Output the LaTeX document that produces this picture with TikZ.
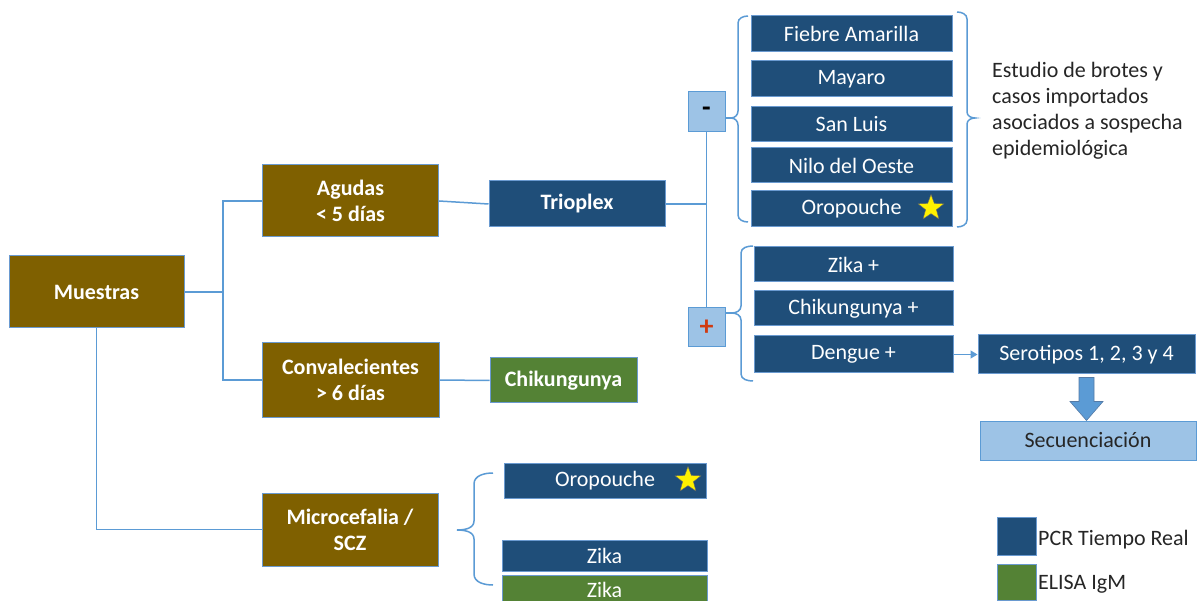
\documentclass[tikz,border=0pt]{standalone}
\usepackage{fontspec}
\setmainfont{Carlito}
\usetikzlibrary{shapes.geometric,arrows.meta}
\definecolor{dblue}{HTML}{1F4E79}
\definecolor{dgreen}{HTML}{548235}
\definecolor{brownc}{HTML}{7F6000}
\definecolor{lblue}{HTML}{9DC3E6}
\definecolor{lineblue}{HTML}{5B9BD5}
\definecolor{bord}{HTML}{6A9AD0}
\definecolor{darktxt}{HTML}{262626}
\definecolor{plusred}{HTML}{D03A10}
\newcommand\fsz{\fontsize{22}{26}\selectfont}
\tikzset{
  box/.style={draw=bord, line width=1pt, inner sep=0pt, align=center, font=\fsz},
  bluebox/.style={box, fill=dblue, text=white},
  brownbox/.style={box, fill=brownc, text=white, font=\fsz\bfseries},
  greenbox/.style={box, fill=dgreen, text=white},
  signbox/.style={box, fill=lblue, draw=lineblue, font=\fontsize{28}{30}\selectfont\bfseries},
  ln/.style={draw=lineblue, line width=1.5pt},
  starmark/.style={star, star points=5, star point ratio=2.4, fill=yellow, draw=black!60, line width=0.4pt, minimum size=27pt, inner sep=0pt},
}
\begin{document}
\begin{tikzpicture}[x=1pt,y=-1pt]
\clip (0,0) rectangle (1202,601);
\fill[white] (0,0) rectangle (1202,601);

% left column
\node[brownbox, minimum width=175pt, minimum height=72pt] (mue) at (96.5,292) {Muestras};
\node[brownbox, minimum width=176pt, minimum height=72pt] (agu) at (350.5,201) {Agudas\\< 5 días};
\node[brownbox, minimum width=177pt, minimum height=74pt] (conv) at (350.5,380) {Convalecientes\\> 6 días};
\node[brownbox, minimum width=176pt, minimum height=73pt] (micro) at (350,529.5) {Microcefalia /\\SCZ};

\coordinate (j1) at (223,292);
\draw[ln] (mue.east) -- (j1);
\draw[ln] (j1) |- (agu.west);
\draw[ln] (j1) |- (conv.west);
\draw[ln] (mue.south) |- (micro.west);

% second column
\node[bluebox, minimum width=176pt, minimum height=46pt, font=\fsz\bfseries] (trio) at (577,204) {Trioplex};
\node[greenbox, minimum width=147pt, minimum height=45pt, font=\fsz\bfseries] (chik) at (563.5,380.5) {Chikungunya};
\draw[ln] (agu.east) -- (trio.west);
\draw[ln] (conv.east) -- (chik.west);

% sign boxes
\node[signbox, minimum width=37pt, minimum height=40pt] (minus) at (706.5,112) {-};
\node[signbox, minimum width=37pt, minimum height=39pt, text=plusred] (plus) at (706.5,327.5) {+};
\draw[ln] (minus.south) -- (plus.north);
\draw[ln] (trio.east) -- (trio.east -| minus.south);

% upper brace group
\coordinate (bt1) at (731,118);
\draw[ln] (minus.east |- bt1) -- (bt1);
\draw[ln] (748,16) to[out=180,in=90] (738,23) -- (738,111) to[out=-90,in=0] (bt1) to[out=0,in=90] (738,125) -- (738,215) to[out=-90,in=180] (748,222);
\node[bluebox, minimum width=201pt, minimum height=36pt] (fa) at (851.5,34) {Fiebre Amarilla};
\node[bluebox, minimum width=201pt, minimum height=36pt] (may) at (851.5,79) {Mayaro};
\node[bluebox, minimum width=201pt, minimum height=35pt] (sl) at (851.5,124.5) {San Luis};
\node[bluebox, minimum width=201pt, minimum height=35pt] (nilo) at (851.5,165.5) {Nilo del Oeste};
\node[bluebox, minimum width=201pt, minimum height=36pt] (oro1) at (851.5,209) {Oropouche};
\node[starmark] (star1) at (931,208) {};
\draw[ln] (957,12) to[out=0,in=90] (967,19) -- (967,112) to[out=-90,in=180] (975,118) to[out=180,in=90] (967,124) -- (967,220) to[out=-90,in=0] (957,227);
\node[font=\fsz, text=darktxt, align=left, anchor=north west, inner sep=0pt] (estudio) at (992,62) {Estudio de brotes y\\casos importados\\asociados a sospecha\\epidemiológica};

% lower brace group
\coordinate (bt2) at (732,313);
\draw[ln] (plus.east |- bt2) -- (bt2);
\draw[ln] (753,246) to[out=180,in=90] (741,253) -- (741,306) to[out=-90,in=0] (bt2) to[out=0,in=90] (741,320) -- (741,374) to[out=-90,in=180] (753,381);
\node[bluebox, minimum width=199pt, minimum height=35pt] (zikap) at (853.5,264.5) {Zika +};
\node[bluebox, minimum width=199pt, minimum height=35pt] (chikp) at (853.5,308.5) {Chikungunya +};
\node[bluebox, minimum width=199pt, minimum height=37pt] (deng) at (853.5,354.5) {Dengue +};

\node[bluebox, minimum width=217pt, minimum height=39pt] (sero) at (1086.5,354.5) {Serotipos 1, 2, 3 y 4};
\draw[draw=lineblue, line width=1.3pt, -{Triangle[length=7pt,width=8pt]}] (deng.east) -- (sero.west);
\node[box, fill=lblue, draw=lineblue, text=darktxt, minimum width=216pt, minimum height=39pt] (sec) at (1088,440.5) {Secuenciación};
\draw[fill=lineblue, draw=bord!80!black, line width=0.6pt] (sero.south) ++(-7.5,3) -- ++(15,0) -- ++(0,24) -- ++(9,0) -- ++(-16.5,19) -- ++(-16.5,-19) -- ++(9,0) -- cycle;

% microcefalia group
\coordinate (bt3) at (457,530);
\draw[ln] (493,473) to[out=180,in=90] (474,484) -- (474,521) to[out=-90,in=0] (bt3);
\draw[ln] (bt3) to[out=0,in=90] (474,539) -- (474,574) to[out=-90,in=180] (493,585);
\node[bluebox, minimum width=202pt, minimum height=35pt] (oro2) at (605,480.5) {Oropouche};
\node[starmark] (star2) at (688,480) {};
\node[bluebox, minimum width=205pt, minimum height=31pt] (zika1) at (604.5,555.5) {Zika};
\node[greenbox, minimum width=205pt, minimum height=30pt] (zika2) at (604.5,590) {Zika};

% legend
\node[box, fill=dblue, minimum width=39pt, minimum height=38pt] (lg1) at (1016.5,536) {};
\node[box, fill=dgreen, minimum width=39pt, minimum height=36pt] (lg2) at (1016.5,582) {};
\node[font=\fsz, text=darktxt, anchor=west, inner sep=0pt] (lt1) at (1038,540) {PCR Tiempo Real};
\node[font=\fsz, text=darktxt, anchor=west, inner sep=0pt] (lt2) at (1038,584) {ELISA IgM};
\end{tikzpicture}
\end{document}
